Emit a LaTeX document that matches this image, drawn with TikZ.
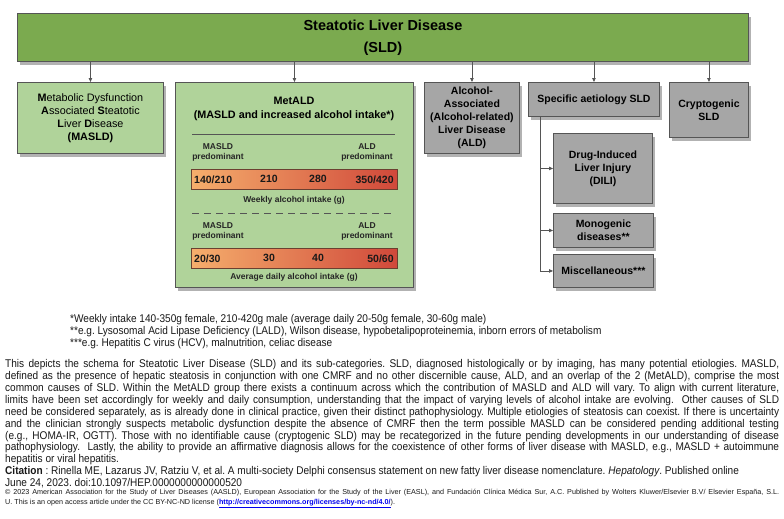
\documentclass[tikz,border=0pt]{standalone}
\usepackage{fontspec}
\setmainfont{Liberation Sans}
\newfontfamily\narrowfont[FakeStretch=0.90]{Liberation Sans}
\usetikzlibrary{shadows,arrows.meta}
\definecolor{sldgreen}{HTML}{7BAA4F}
\definecolor{lightgreen}{HTML}{B0D39A}
\definecolor{boxgray}{HTML}{A6A6A6}
\definecolor{bordergray}{HTML}{555555}
\definecolor{barleft}{HTML}{F5AE6C}
\definecolor{barright}{HTML}{D0483A}
\definecolor{barborder}{HTML}{6B4030}
\definecolor{linkblue}{HTML}{0000EE}
\newcommand{\jline}[1]{\makebox[774pt][s]{#1}}
\frenchspacing
\begin{document}
\begin{tikzpicture}[x=1pt,y=-1pt,
  box/.style={draw=bordergray, line width=0.9pt, anchor=north west, inner sep=0pt, align=center, text=black,
    drop shadow={shadow xshift=3pt,shadow yshift=-4pt,opacity=0.3,fill=black}},
  greenbox/.style={box, fill=lightgreen},
  graybox/.style={box, fill=boxgray, font=\bfseries\fontsize{10.5}{13}\selectfont},
  arr/.style={draw=bordergray, line width=0.8pt, -{Triangle[length=4pt,width=3.5pt]}},
  bar/.style={draw=barborder, line width=0.8pt, anchor=north west, inner sep=0pt, left color=barleft, right color=barright, minimum width=206pt, minimum height=20pt},
  barnum/.style={font=\bfseries\fontsize{10.5}{12}\selectfont, inner sep=0pt, text=black!90},
  predlabel/.style={font=\bfseries\fontsize{8.5}{10}\selectfont, align=center, inner sep=0pt, text=black!85},
  axislabel/.style={font=\bfseries\fontsize{8.5}{10}\selectfont, inner sep=0pt, text=black!85},
  sepline/.style={draw=bordergray, line width=0.8pt},
  body/.style={anchor=north west, inner sep=0pt, align=left, text=black!90}
]
\useasboundingbox (0,0) rectangle (784,519);
\fill[white] (0,0) rectangle (784,519);

% top box
\node[box, fill=sldgreen, minimum width=731pt, minimum height=48pt, font=\bfseries\fontsize{14.5}{22}\selectfont] (sld) at (17,13) {Steatotic Liver Disease\\(SLD)};

% children
\node[greenbox, minimum width=146pt, minimum height=71pt, font=\fontsize{10.8}{13}\selectfont] (masld) at (17,82)
  {\textbf{M}etabolic Dysfunction\\\textbf{A}ssociated \textbf{S}teatotic\\\textbf{L}iver \textbf{D}isease\\\textbf{(MASLD)}};
\node[greenbox, minimum width=238pt, minimum height=205pt] (metald) at (175,82) {};
\node[graybox, minimum width=95pt, minimum height=71pt] (ald) at (424,82) {Alcohol-\\Associated\\(Alcohol-related)\\Liver Disease\\(ALD)};
\node[graybox, minimum width=131pt, minimum height=34pt] (spec) at (528,82) {Specific aetiology SLD};
\node[graybox, minimum width=79pt, minimum height=55pt] (crypto) at (669,82) {Cryptogenic\\SLD};
\node[graybox, minimum width=99pt, minimum height=70pt] (dili) at (553,133) {Drug-Induced\\Liver Injury\\(DILI)};
\node[graybox, minimum width=100pt, minimum height=34pt] (mono) at (553,213) {Monogenic\\diseases**};
\node[graybox, minimum width=100pt, minimum height=33pt] (misc) at (553,254) {Miscellaneous***};

% connectors from SLD
\foreach \c in {masld,metald,ald,spec,crypto}{
  \draw[arr] (sld.south -| \c.north) -- (\c.north);
}
% specific aetiology branch
\coordinate (branch) at (540,116);
\draw[sepline] (branch) -- (branch |- misc.west);
\draw[arr] (branch) |- (dili.west);
\draw[arr] (branch) |- (mono.west);
\draw[arr] (branch) |- (misc.west);

% MetALD content
\node[font=\bfseries\fontsize{10.8}{14}\selectfont, align=center, inner sep=0pt] (mettitle) at (294,109) {MetALD\\(MASLD and increased alcohol intake*)};
\coordinate (sepA) at (192,134);
\coordinate (sepB) at (395,134);
\draw[sepline] (sepA) -- (sepB);
\node[predlabel] (pm1) at (218,152) {MASLD\\predominant};
\node[predlabel] (pa1) at (367,152) {ALD\\predominant};
\node[bar] (bar1) at (191,169) {};
\node[barnum, anchor=west] (n11) at ([xshift=3pt]bar1.west) {140/210};
\node[barnum] (n12) at (269,179) {210};
\node[barnum] (n13) at (318,179) {280};
\node[barnum, anchor=east] (n14) at ([xshift=-4pt]bar1.east) {350/420};
\node[axislabel] (wk) at (294,200) {Weekly alcohol intake (g)};
\coordinate (dashA) at (192,213);
\coordinate (dashB) at (395,213);
\draw[sepline, dash pattern=on 7pt off 5pt] (dashA) -- (dashB);
\node[predlabel] (pm2) at (218,231) {MASLD\\predominant};
\node[predlabel] (pa2) at (367,231) {ALD\\predominant};
\node[bar] (bar2) at (191,248) {};
\node[barnum, anchor=west] (n21) at ([xshift=3pt]bar2.west) {20/30};
\node[barnum] (n22) at (269,258) {30};
\node[barnum] (n23) at (318,258) {40};
\node[barnum, anchor=east] (n24) at ([xshift=-4pt]bar2.east) {50/60};
\node[axislabel] (avg) at (294,277) {Average daily alcohol intake (g)};

% footnotes
\node[body, font=\narrowfont\fontsize{11.2}{12}\selectfont] (notes) at (70,314)
 {*Weekly intake 140-350g female, 210-420g male (average daily 20-50g female, 30-60g male)\\
  **e.g. Lysosomal Acid Lipase Deficiency (LALD), Wilson disease, hypobetalipoproteinemia, inborn errors of metabolism\\
  ***e.g. Hepatitis C virus (HCV), malnutrition, celiac disease};

% paragraph
\node[body, font=\narrowfont\fontsize{11.2}{11.95}\selectfont] (para) at (5,359)
 {\jline{This depicts the schema for Steatotic Liver Disease (SLD) and its sub-categories. SLD, diagnosed histologically or by imaging, has many potential etiologies. MASLD,}\\
  \jline{defined as the presence of hepatic steatosis in conjunction with one CMRF and no other discernible cause, ALD, and an overlap of the 2 (MetALD), comprise the most}\\
  \jline{common causes of SLD. Within the MetALD group there exists a continuum across which the contribution of MASLD and ALD will vary. To align with current literature,}\\
  \jline{limits have been set accordingly for weekly and daily consumption, understanding that the impact of varying levels of alcohol intake are evolving.\ \ Other causes of SLD}\\
  \jline{need be considered separately, as is already done in clinical practice, given their distinct pathophysiology. Multiple etiologies of steatosis can coexist. If there is uncertainty}\\
  \jline{and the clinician strongly suspects metabolic dysfunction despite the absence of CMRF then the term possible MASLD can be considered pending additional testing}\\
  \jline{(e.g., HOMA-IR, OGTT). Those with no identifiable cause (cryptogenic SLD) may be recategorized in the future pending developments in our understanding of disease}\\
  \jline{pathophysiology.\ \ Lastly, the ability to provide an affirmative diagnosis allows for the coexistence of other forms of liver disease with MASLD, e.g., MASLD + autoimmune}\\
  hepatitis or viral hepatitis.\\
  \textbf{Citation} : Rinella ME, Lazarus JV, Ratziu V, et al. A multi-society Delphi consensus statement on new fatty liver disease nomenclature. \textit{Hepatology}. Published online\\
  June 24, 2023. doi:10.1097/HEP.0000000000000520};

% copyright
\node[body, font=\fontsize{7.2}{9.5}\selectfont] (copy) at (5,489)
 {\jline{© 2023 American Association for the Study of Liver Diseases (AASLD), European Association for the Study of the Liver (EASL), and Fundación Clínica Médica Sur, A.C. Published by Wolters Kluwer/Elsevier B.V/ Elsevier España, S.L.}\\
  U. This is an open access article under the CC BY-NC-ND license (\textcolor{linkblue}{\bfseries\underline{http://creativecommons.org/licenses/by-nc-nd/4.0/}}).};
\end{tikzpicture}
\end{document}
